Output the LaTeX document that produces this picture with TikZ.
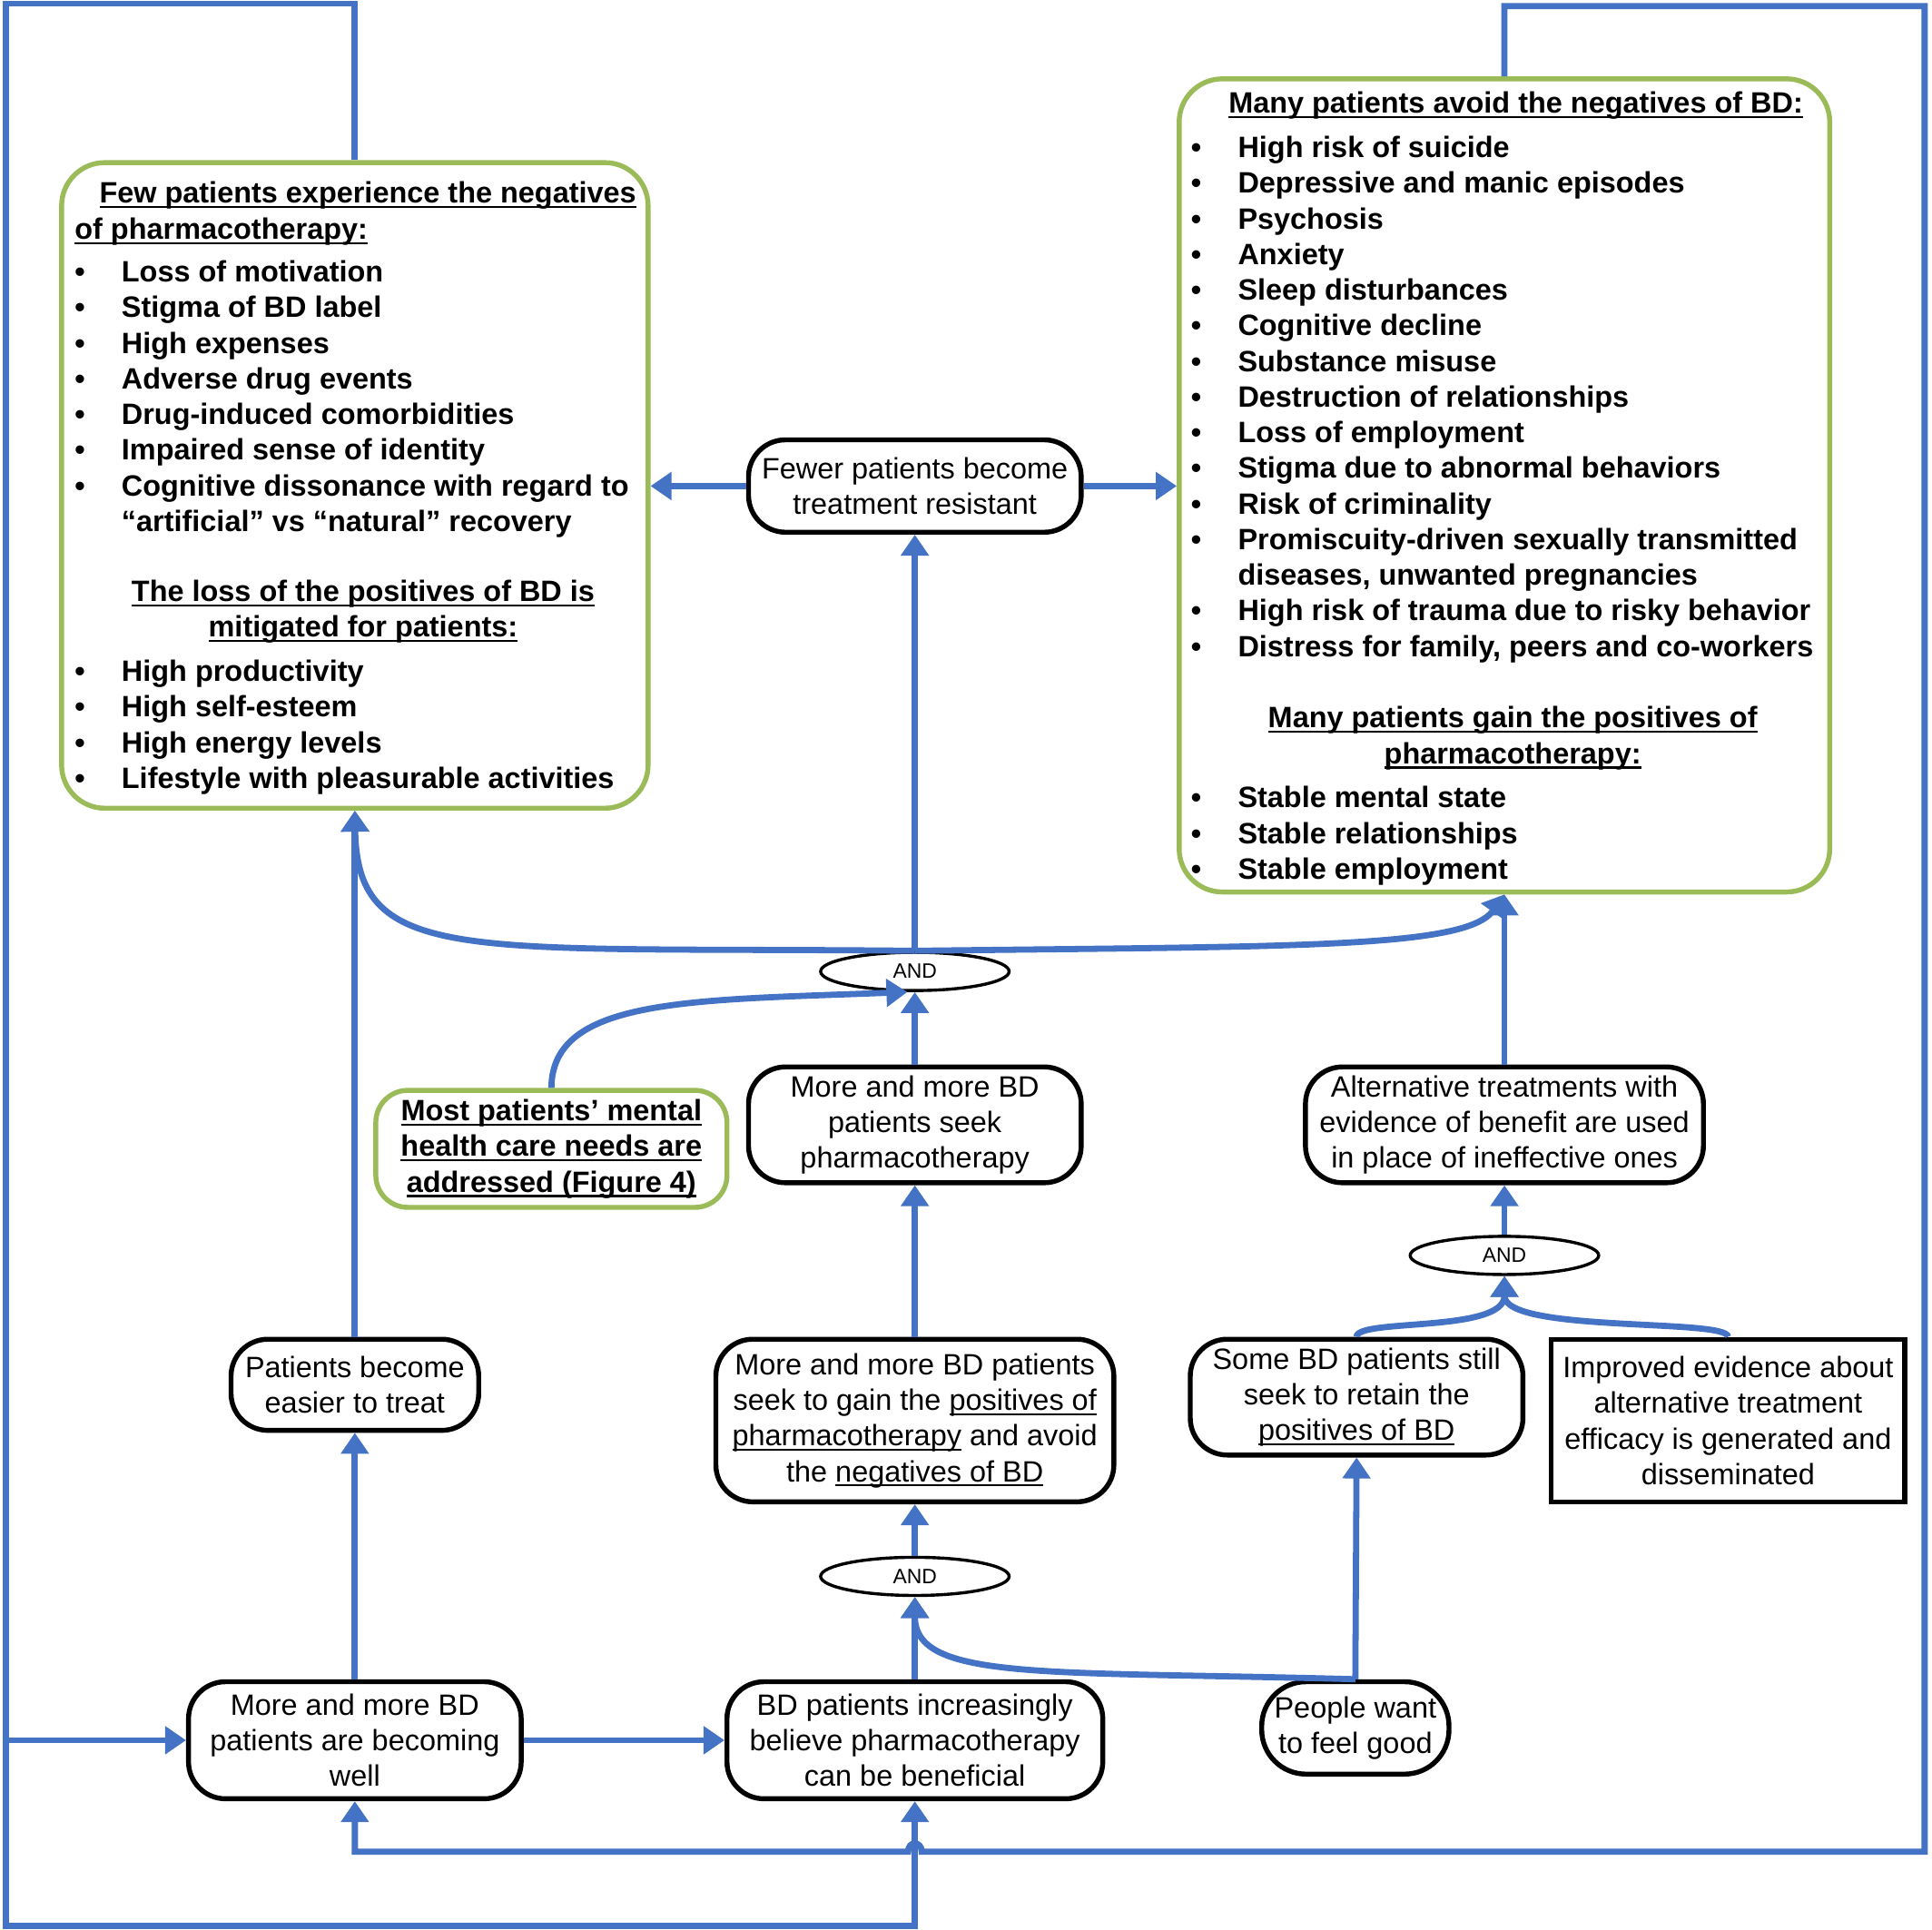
\documentclass[tikz,border=0pt]{standalone}
\usepackage{fontspec}
\setmainfont{Liberation Sans}
\usetikzlibrary{arrows.meta, shapes.geometric}
\definecolor{bdblue}{RGB}{68,114,196}
\definecolor{bdgreen}{RGB}{155,187,89}
\newcommand{\boxfont}{\fontsize{6.8}{8.23}\selectfont}
\newcommand{\andfont}{\fontsize{4.8}{5.5}\selectfont}
\newcommand{\bdit}[1]{\makebox[3.8mm][l]{\textbullet}#1}
\newsavebox{\bdulbox}
\newcommand{\bdul}[1]{\sbox{\bdulbox}{#1}\rlap{\rule[-0.4mm]{\wd\bdulbox}{0.15mm}}\usebox{\bdulbox}}

\begin{document}
\begin{tikzpicture}[x=0.1mm, y=-0.1mm,
  every node/.style={align=center, font=\boxfont},
  stepbox/.style={draw, rounded corners=3mm, line width=0.4mm, inner sep=0pt},
  goalbox/.style={draw=bdgreen, rounded corners=3.5mm, line width=0.4mm, inner sep=0pt},
  andnode/.style={ellipse, draw, line width=0.25mm, minimum width=15.3mm, minimum height=3.1mm, inner sep=0pt, font=\andfont},
  link/.style={draw=bdblue, line width=0.5mm, -{Triangle[length=1.7mm, width=2.2mm]}}
  ]
  \useasboundingbox (0,0) rectangle (1568,1566.5);

  % outcome boxes
  \node[goalbox, minimum width=47.6mm, minimum height=52.4mm] (leftbox) at (288,394) {};
  \node[goalbox, minimum width=52.8mm, minimum height=66mm] (rightbox) at (1221,394) {};

  \node[anchor=north west, inner sep=0pt, align=left, font=\boxfont\bfseries] (lefttext) at (60,147) {%
    \hspace*{2mm}\bdul{Few patients experience the negatives}\\
    \bdul{of pharmacotherapy:}\\[0.6mm]
    \bdit{Loss of motivation}\\
    \bdit{Stigma of BD label}\\
    \bdit{High expenses}\\
    \bdit{Adverse drug events}\\
    \bdit{Drug-induced comorbidities}\\
    \bdit{Impaired sense of identity}\\
    \bdit{Cognitive dissonance with regard to}\\
    \hspace*{3.8mm}“artificial” vs “natural” recovery\\[2.8mm]
    \makebox[46.8mm]{\bdul{The loss of the positives of BD is}}\\
    \makebox[46.8mm]{\bdul{mitigated for patients:}}\\[0.7mm]
    \bdit{High productivity}\\
    \bdit{High self-esteem}\\
    \bdit{High energy levels}\\
    \bdit{Lifestyle with pleasurable activities}};

  \node[anchor=north west, inner sep=0pt, align=left, font=\boxfont\bfseries] (righttext) at (966,74) {%
    \makebox[52.7mm]{\bdul{Many patients avoid the negatives of BD:}}\\[0.7mm]
    \bdit{High risk of suicide}\\
    \bdit{Depressive and manic episodes}\\
    \bdit{Psychosis}\\
    \bdit{Anxiety}\\
    \bdit{Sleep disturbances}\\
    \bdit{Cognitive decline}\\
    \bdit{Substance misuse}\\
    \bdit{Destruction of relationships}\\
    \bdit{Loss of employment}\\
    \bdit{Stigma due to abnormal behaviors}\\
    \bdit{Risk of criminality}\\
    \bdit{Promiscuity-driven sexually transmitted}\\
    \hspace*{3.8mm}diseases, unwanted pregnancies\\
    \bdit{High risk of trauma due to risky behavior}\\
    \bdit{Distress for family, peers and co-workers}\\[2.9mm]
    \makebox[52.2mm]{\bdul{Many patients gain the positives of}}\\
    \makebox[52.2mm]{\bdul{pharmacotherapy:}}\\[0.7mm]
    \bdit{Stable mental state}\\
    \bdit{Stable relationships}\\
    \bdit{Stable employment}};

  % steps
  \node[stepbox, minimum width=27mm, minimum height=7.5mm] (fewer) at (742.5,394.5) {Fewer patients become\\treatment resistant};
  \node[andnode] (and1) at (742.5,788.5) {AND};
  \node[stepbox, minimum width=27mm, minimum height=9.4mm] (seek) at (742.5,913) {More and more BD\\patients seek\\pharmacotherapy};
  \node[goalbox, rounded corners=2.6mm, minimum width=28.5mm, minimum height=9.5mm, font=\boxfont\bfseries] (mostneeds) at (447.5,932.5) {\bdul{Most patients’ mental}\\\bdul{health care needs are}\\\bdul{addressed (Figure 4)}};
  \node[stepbox, minimum width=32.3mm, minimum height=9.4mm] (alt) at (1221,913) {Alternative treatments with\\evidence of benefit are used\\in place of ineffective ones};
  \node[andnode] (and2) at (1221,1019) {AND};
  \node[stepbox, minimum width=20.1mm, minimum height=7.4mm] (easier) at (288,1124) {Patients become\\easier to treat};
  \node[stepbox, minimum width=32.3mm, minimum height=13.2mm] (gain) at (742.5,1153) {More and more BD patients\\seek to gain the \bdul{positives of}\\\bdul{pharmacotherapy} and avoid\\the \bdul{negatives of BD}};
  \node[stepbox, minimum width=27mm, minimum height=9.4mm] (some) at (1101,1134) {Some BD patients still\\seek to retain the\\\bdul{positives of BD}};
  \node[draw, line width=0.4mm, inner sep=0pt, minimum width=28.7mm, minimum height=13.2mm] (improved) at (1402.5,1153) {Improved evidence about\\alternative treatment\\efficacy is generated and\\disseminated};
  \node[andnode] (and3) at (742.5,1279.5) {AND};
  \node[stepbox, minimum width=27mm, minimum height=9.5mm] (well) at (288,1412.5) {More and more BD\\patients are becoming\\well};
  \node[stepbox, minimum width=30.5mm, minimum height=9.5mm] (believe) at (742.5,1412.5) {BD patients increasingly\\believe pharmacotherapy\\can be beneficial};
  \node[stepbox, rounded corners=3.6mm, minimum width=15.2mm, minimum height=7.5mm] (people) at (1100,1402.5) {People want\\to feel good};

  % corners of the feedback loops
  \coordinate (nwc) at (5,3);
  \coordinate (swc) at (5,1563);
  \coordinate (nec) at (1562,5);
  \coordinate (sec) at (1562,1503);

  % links
  \draw[link] (fewer.west) -- (fewer.west -| leftbox.east);
  \draw[link] (fewer.east) -- (fewer.east -| rightbox.west);
  \draw[link] (and1.north) -- (fewer.south);
  \draw[link] (and1.north) .. controls (380,768) and (290,785) .. (leftbox.south);
  \draw[link] (and1.north) .. controls (1050,768) and (1190,770) .. (rightbox.south);
  \draw[link] (seek.north) -- (and1.south);
  \draw[link] (mostneeds.north) .. controls (448,810) and (560,812) .. (and1.250);
  \draw[link] (alt.north) -- (rightbox.south);
  \draw[link] (and2.north) -- (alt.south);
  \draw[link] (some.north) .. controls (1101,1070) and (1221,1082) .. (and2.south);
  \draw[link] (improved.north) .. controls (1402,1070) and (1221,1082) .. (and2.south);
  \draw[link] (gain.north) -- (seek.south);
  \draw[link] (and3.north) -- (gain.south);
  \draw[link] (believe.north) -- (and3.south);
  \draw[link] (people.north) .. controls (850,1356) and (742.5,1365) .. (and3.south);
  \draw[link] (people.north) -- (some.south);
  \draw[link] (easier.north) -- (leftbox.south);
  \draw[link] (well.north) -- (easier.south);
  \draw[link] (well.east) -- (believe.west);

  % feedback loops
  \draw[link] (leftbox.north) |- (nwc) -- (swc) -| (believe.south);
  \draw[link] (swc |- well.west) -- (well.west);
  \draw[link] (rightbox.north) |- (nec) -- (sec) -- (748,1503)
    .. controls (748,1494) and (737,1494) .. (737,1503) -| (well.south);
\end{tikzpicture}
\end{document}
